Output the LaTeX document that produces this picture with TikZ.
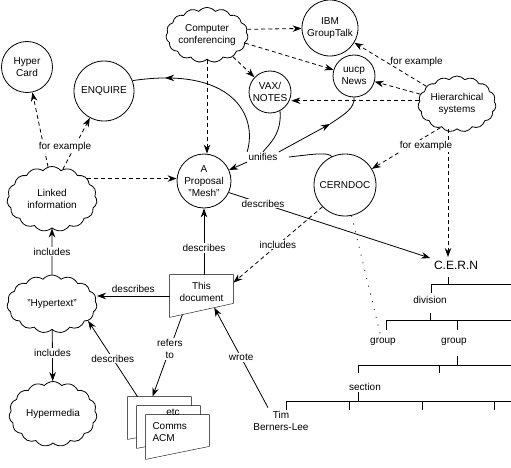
\documentclass[tikz,border=0pt]{standalone}
\usepackage{fontspec}
\setmainfont{Liberation Sans}
\usetikzlibrary{arrows.meta, positioning, shapes.symbols, calc, backgrounds, decorations.markings}

\begin{document}
\begin{tikzpicture}[
  x=1pt, y=-1pt, line width=0.8pt,
  every node/.style={font=\fontsize{10}{12}\selectfont},
  bub/.style={circle, draw, align=center, inner sep=0pt},
  puff/.style={cloud, draw, cloud puffs=15, cloud puff arc=100, cloud ignores aspect,
               align=center, inner sep=0pt},
  paper/.style={rectangle, inner sep=0pt, minimum width=63pt},
  arr/.style={-{Stealth[length=9pt, width=6.5pt]}},
  darr/.style={arr, dash pattern=on 4pt off 3pt},
  dotline/.style={dash pattern=on 1pt off 7pt},
  lbl/.style={fill=white, inner sep=1pt},
  midarr/.style={postaction={decorate}, decoration={markings,
                 mark=at position #1 with {\arrow{Stealth[length=9pt, width=6.5pt]}}}},
]
\useasboundingbox (0,0) rectangle (511,468);

% bubbles
\node[bub, minimum size=51pt] (hcard) at (27,67) {Hyper\\Card};
\node[bub, minimum size=60pt] (enquire) at (104,91) {ENQUIRE};
\node[bub, minimum size=56pt] (ibm) at (330,28) {IBM\\GroupTalk};
\node[bub, minimum size=42pt] (uucp) at (354,76) {uucp\\News};
\node[bub, minimum size=42pt] (vax) at (270,92) {VAX/\\NOTES};
\node[bub, minimum size=54pt] (mesh) at (204,181) {A\\Proposal\\"Mesh"};
\node[bub, minimum size=62pt] (cerndoc) at (345,185) {CERNDOC};

% clouds
\node[puff, minimum width=72pt, minimum height=55pt] (conf) at (207,35) {Computer\\conferencing};
\node[puff, minimum width=78pt, minimum height=56pt] (hier) at (457,104) {Hierarchical\\systems};
\node[puff, minimum width=90pt, minimum height=65pt] (linked) at (52,199) {Linked\\information};
\node[puff, minimum width=90pt, minimum height=58pt] (hypertext) at (52,304) {"Hypertext"};
\node[puff, minimum width=88pt, minimum height=65pt] (hypermedia) at (53,414) {Hypermedia};

% papers
\node[paper, minimum height=34pt, align=center] (doc) at (201.5,292) {This\\document};
\coordinate (docbl) at ([yshift=-8pt]doc.south west);
\coordinate (docbr) at ([yshift=6pt]doc.south east);
\node[paper, minimum height=42pt] (stack) at (159.5,418) {};
\node[paper, minimum height=42pt] (etcdoc) at (168.5,427) {};
\node (etc) at (173,412) {etc};
\node[paper, minimum height=34pt, text width=50pt, align=left] (comms) at (177.5,432) {Comms\\ACM};
\begin{scope}[on background layer]
\draw[fill=white] (doc.north west) -- (doc.north east) -- (docbr) -- (docbl) -- cycle;
\draw[fill=white] (stack.north west) -- (stack.north east) -- ([yshift=12pt]stack.south east) -- (stack.south west) -- cycle;
\draw[fill=white] (etcdoc.north west) -- (etcdoc.north east) -- ([yshift=12pt]etcdoc.south east) -- (etcdoc.south west) -- cycle;
\draw[fill=white] (comms.north west) -- (comms.north east) -- ([yshift=3pt]comms.south east) -- ([yshift=-10pt]comms.south west) -- cycle;
\end{scope}

% hierarchy of C.E.R.N
\node[font=\fontsize{12}{14}\selectfont] (cern) at (456,265) {C.E.R.N};
\node (division) at (430,300) {division};
\node (group1) at (383,342) {group};
\node (group2) at (454,342) {group};
\node (section) at (365,387) {section};
\node[align=center] (tim) at (281,421) {Tim\\Berners-Lee};

\draw (448,277) -- (448,284)
  (431,293) -- (431,284) -- (511,284)
  (430,313) -- (430,320)
  (386,330) -- (386,320) -- (511,320)
  (457,320) -- (457,330)
  (457,356) -- (457,365)
  (358,373) -- (358,365) -- (511,365)
  (439,365) -- (439,373)
  (358,392) -- (358,401)
  (286,410) -- (286,401) -- (511,401)
  (349,401) -- (349,410) (422,401) -- (422,410) (494,401) -- (494,410);

% computer conferencing
\draw[darr] (conf.8) -- (ibm);
\draw[darr] (conf.-12) -- (uucp);
\draw[darr] (conf.-40) -- (vax);
\draw[darr] (conf.south) -- (conf.south |- mesh.north);

% hierarchical systems
\draw[darr] (hier.150) -- node[right, pos=.55]{for example} (ibm);
\draw[darr] (hier.165) -- (uucp);
\draw[darr] (hier.175) -- (hier.175 -| vax.east);
\draw[darr] (hier.-125) -- (cerndoc);
\draw[darr] ([xshift=-9pt]hier.south) -- ([xshift=-9pt]hier.south |- cern.north);
\node[lbl] (fex3) at (426,146) {for example};

% linked information
\draw[darr] (linked.97) -- (hcard);
\draw[darr] (linked.70) -- (enquire);
\draw[darr] (linked.30) -- (linked.30 -| mesh.west);
\node[lbl] (fex1) at (65,147) {for example};

\draw[arr] (hypertext) -- node[lbl]{includes} (linked);
\draw[arr] (hypertext) -- node[lbl, pos=.45]{includes} (hypermedia);

% this document
\draw[arr] (doc.north -| mesh) -- node[lbl, pos=.4]{describes} (mesh);
\draw[arr] ([yshift=-4pt]doc.west) -- node[above]{describes} ([yshift=-4pt]doc.west -| hypertext.east);
\draw[arr] ($(docbl)!.2!(docbr)$) -- node[lbl, pos=.42, align=center]{refers\\to} ([xshift=-7pt]stack.north);
\draw[arr] ([xshift=-13pt]tim.north) -- node[lbl]{wrote} ($(docbl)!.7!(docbr)$);
\draw[arr] ([xshift=-22pt]stack.north) -- node[lbl]{describes} (hypertext.-25);

% CERNDOC
\draw[darr] (cerndoc.-136) -- node[lbl]{includes} ([yshift=-8pt]doc.north east);
\draw[dotline] (cerndoc.-78) -- (group1.110);
\draw[arr] (mesh.-25) -- node[lbl, pos=.17]{describes} (cern.165);

% unifies
\node[lbl] (unif) at (263,157) {unifies};
\coordinate (ua) at (330,124);
\draw[midarr=.8] (unif.north west) .. controls (258,115) and (232,66) .. (enquire.20);
\draw (vax.-62) .. controls (282,135) and (268,145) .. (unif.north);
\draw[arr] (unif.north east) -- (ua);
\draw (ua) .. controls (345,114) and (355,108) .. (uucp.south);
\draw (cerndoc.115) .. controls (328,152) and (315,154) .. ([xshift=10pt]unif.east);
\draw[arr] (unif.south west) -- (mesh);

\end{tikzpicture}
\end{document}
